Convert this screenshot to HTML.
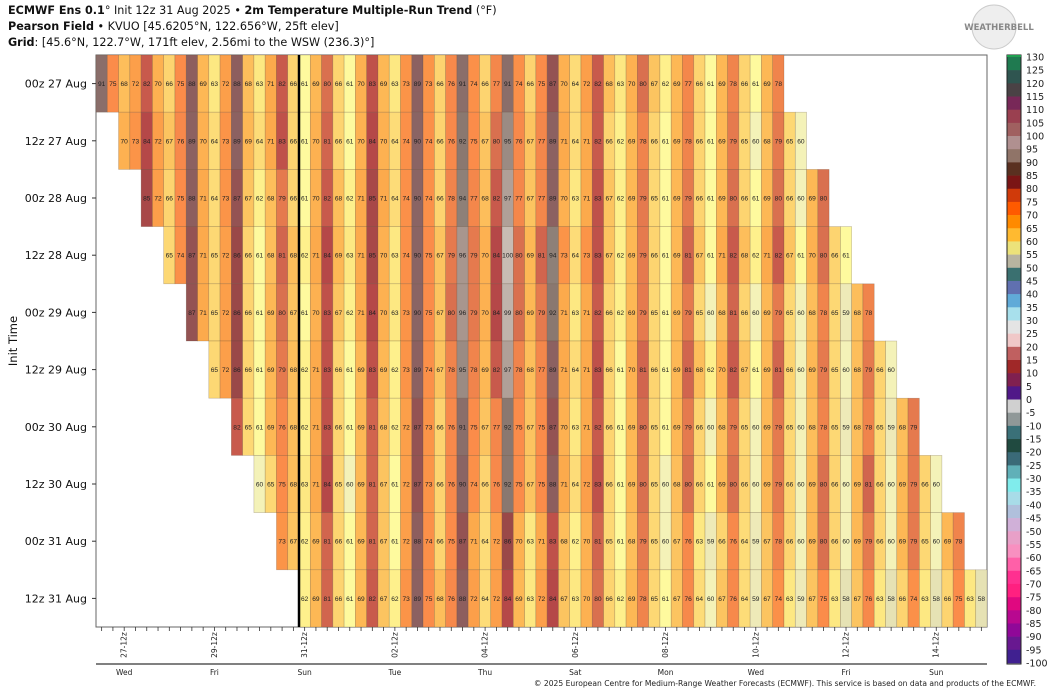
<!DOCTYPE html>
<html><head><meta charset="utf-8">
<style>
body{margin:0;background:#fff;width:1053px;height:694px;overflow:hidden;font-family:"DejaVu Sans","Liberation Sans",sans-serif}
.t{position:absolute;left:8px;font-size:11.2px;color:#111;white-space:nowrap}
</style></head><body>
<div class="t" style="top:4px"><b>ECMWF Ens 0.1</b>° Init 12z 31 Aug 2025 • <b>2m Temperature Multiple-Run Trend</b> (°F)</div>
<div class="t" style="top:20px"><b>Pearson Field</b> • KVUO [45.6205°N, 122.656°W, 25ft elev]</div>
<div class="t" style="top:36px"><b>Grid</b>: [45.6°N, 122.7°W, 171ft elev, 2.56mi to the WSW (236.3)°]</div>
<svg id="chart" width="1053" height="694" style="position:absolute;left:0;top:0"></svg>
<script>
const rowLabels=["00z 27 Aug","12z 27 Aug","00z 28 Aug","12z 28 Aug","00z 29 Aug","12z 29 Aug","00z 30 Aug","12z 30 Aug","00z 31 Aug","12z 31 Aug"];
const row0=[91,75,68,72,82,70,66,75,88,69,63,72,88,68,63,71,82,66,61,69,80,66,61,70,83,69,63,73,89,73,66,76,91,74,66,77,91,74,66,75,87,70,64,72,82,68,63,70,80,67,62,69,77,66,61,69,78,66,61,69,78];
const row1=[70,73,84,72,67,76,89,70,64,73,89,69,64,71,83,66,61,70,81,66,61,70,84,70,64,74,90,74,66,76,92,75,67,80,95,76,67,77,89,71,64,71,82,66,62,69,78,66,61,69,78,66,61,69,79,65,60,68,79,65,60];
const row2=[85,72,66,75,88,71,64,73,87,67,62,68,79,66,61,70,82,68,62,71,85,71,64,74,90,74,66,78,94,77,68,82,97,77,67,77,89,70,63,71,83,67,62,69,79,65,61,69,79,66,61,69,80,66,61,69,80,66,60,69,80];
const row3=[65,74,87,71,65,72,86,66,61,68,81,68,62,71,84,69,63,71,85,70,63,74,90,75,67,79,96,79,70,84,100,80,69,81,94,73,64,73,83,67,62,69,79,66,61,69,81,67,61,71,82,68,62,71,82,67,61,70,80,66,61];
const row4=[87,71,65,72,86,66,61,69,80,67,61,70,83,67,62,71,84,70,63,73,90,75,67,80,96,79,70,84,99,80,69,79,92,71,63,71,82,66,62,69,79,65,61,69,79,65,60,68,81,66,60,69,79,65,60,68,78,65,59,68,78];
const row5=[65,72,86,66,61,69,79,68,62,71,83,66,61,69,83,69,62,73,89,74,67,78,95,78,69,82,97,78,68,77,89,71,64,71,83,66,61,70,81,66,61,69,81,68,62,70,82,67,61,69,81,66,60,69,79,65,60,68,79,66,60];
const row6=[82,65,61,69,76,68,62,71,83,66,61,69,81,68,62,72,87,73,66,76,91,75,67,77,92,75,67,75,87,70,63,71,82,66,61,69,80,65,61,69,79,66,60,68,79,65,60,69,79,65,60,68,78,65,59,68,78,65,59,68,79];
const row7=[60,65,75,68,63,71,84,65,60,69,81,67,61,72,87,73,66,76,90,74,66,76,92,75,67,75,88,71,64,72,83,66,61,69,80,65,60,68,80,66,61,69,80,66,60,69,79,66,60,69,80,66,60,69,81,66,60,69,79,66,60];
const row8=[73,67,62,69,81,66,61,69,81,67,61,72,88,74,66,75,87,71,64,72,86,70,63,71,83,68,62,70,81,65,61,68,79,65,60,67,76,63,59,66,76,64,59,67,78,66,60,69,80,66,60,69,79,66,60,69,79,65,60,69,78];
const row9=[62,69,81,66,61,69,82,67,62,73,89,75,68,76,88,72,64,72,84,69,63,72,84,67,63,70,80,66,62,69,78,65,61,67,76,64,60,67,76,64,59,67,74,63,59,67,75,63,58,67,76,63,58,66,74,63,58,66,75,63,58];
const rows=[row0,row1,row2,row3,row4,row5,row6,row7,row8,row9];
const tickLabels=["27-12z","29-12z","31-12z","02-12z","04-12z","06-12z","08-12z","10-12z","12-12z","14-12z"];
const dayLabels=["Wed","Fri","Sun","Tue","Thu","Sat","Mon","Wed","Fri","Sun"];
const cbarLabels=[130,125,120,115,110,105,100,95,90,85,80,75,70,65,60,55,50,45,40,35,30,25,20,15,10,5,0,-5,-10,-15,-20,-25,-30,-35,-40,-45,-50,-55,-60,-65,-70,-75,-80,-85,-90,-95,-100];
const cbarColors=["#1f7a50","#2f5550","#4a4245","#782858","#9a4050","#a06060","#b09090","#907468","#5a3020","#7a1515","#d03a0a","#ff5a00","#ff8a00","#ffba30","#ece27a","#b8b4a0","#3a7070","#6070b0","#60aad8","#a8e0ec","#e4e4e4","#f0c8c8","#c06060","#a02828","#802050","#501888","#d0d0d0","#909898","#3a7078","#204a40","#3a6a78","#60b0b8","#80ecec","#a8dce8","#b0c0dc","#d0b0d8","#e8a0c8","#f890c0","#ff60a8","#ff3090","#ff2080","#e00880","#b80890","#900898","#681890","#402090"];
const stops=[[58,"#e6e2b4"],[59,"#eeeab8"],[60,"#f4f2b8"],[61,"#fefa9e"],[62,"#fef08c"],[63,"#fde882"],[64,"#fddc78"],[66,"#fdd470"],[67,"#fcc460"],[69,"#fdb855"],[71,"#fcaa4c"],[73,"#fb9448"],[75,"#fb8c4a"],[78,"#f0844c"],[80,"#d9704f"],[82,"#c85a4c"],[84,"#b54848"],[86,"#9a4848"],[88,"#8d5e5e"],[90,"#8a6464"],[92,"#8a7870"],[94,"#8e8078"],[96,"#a8968e"],[100,"#c8bcb4"]];
function hex(c){return [1,3,5].map(i=>parseInt(c.substr(i,2),16));}
function color(v){
  if(v<=stops[0][0])return stops[0][1];
  for(let i=1;i<stops.length;i++){if(v<=stops[i][0]){const a=stops[i-1],b=stops[i];const t=(v-a[0])/(b[0]-a[0]);const A=hex(a[1]),B=hex(b[1]);return "rgb("+A.map((x,k)=>Math.round(x+(B[k]-x)*t)).join(",")+")";}}
  return stops[stops.length-1][1];
}
const X0=96,X1=987,Y0=55,Y1=627,NC=79;
const cw=(X1-X0)/NC,rh=(Y1-Y0)/rows.length;
const xc=c=>X0+c*cw, yr=r=>Y0+r*rh;
const svg=document.getElementById('chart');const NS="http://www.w3.org/2000/svg";
function mk(tag,attrs,parent){const e=document.createElementNS(NS,tag);for(const k in attrs)e.setAttribute(k,attrs[k]);(parent||svg).appendChild(e);return e;}
const frame=mk('rect',{x:X0,y:Y0,width:X1-X0,height:Y1-Y0,fill:'#fff',stroke:'#666','stroke-width':1});


rows.forEach((vals,r)=>{
  const g=mk('g',{});
  
  
  vals.forEach((v,i)=>{
    const c=2*r+i;
    const rc=mk('rect',{x:xc(c),y:yr(r),width:cw,height:rh,fill:color(v),stroke:'rgba(90,70,50,0.35)','stroke-width':0.6},g);
    
    
    const t=mk('text',{x:xc(c)+cw/2,y:yr(r)+rh/2+2.5,'font-size':'6.6px','text-anchor':'middle',fill:'#222','font-family':'"Liberation Sans",sans-serif'},g);
    t.textContent=v;
  });
  const lbl=mk('text',{x:87,y:yr(r)+rh/2+4,'font-size':'11px','text-anchor':'end',fill:'#111'});
  lbl.textContent=rowLabels[r];
  
  
  mk('line',{x1:92,x2:96,y1:yr(r)+rh/2,y2:yr(r)+rh/2,stroke:'#333'});
});
mk('line',{x1:X0+18*cw,x2:X0+18*cw,y1:Y0,y2:Y1,stroke:'#000','stroke-width':2.5});
for(let c=0;c<NC;c++){mk('line',{x1:xc(c)+cw/2,x2:xc(c)+cw/2,y1:Y1,y2:Y1+4,stroke:'#333','stroke-width':0.8});}
tickLabels.forEach((s,i)=>{
  const x=xc(2+8*i)+cw/2;
  const t=mk('text',{x:0,y:0,'font-size':'7.5px','text-anchor':'middle',fill:'#222',transform:`translate(${x+2.5},645) rotate(-90)`});
  t.textContent=s;
  
  
  const d=mk('text',{x:x,y:675,'font-size':'7.5px','text-anchor':'middle',fill:'#222'});
  d.textContent=dayLabels[i];
  
  
});
mk('line',{x1:X0,x2:X1,y1:664,y2:664,stroke:'#000','stroke-width':1});
const yt=mk('text',{x:0,y:0,'font-size':'11.5px','text-anchor':'middle',fill:'#111',transform:'translate(17,341) rotate(-90)'});
yt.textContent='Init Time';


const CB0=57,CB1=663,bh=(CB1-CB0)/(cbarLabels.length-1);
const cg=mk('g',{});


cbarColors.forEach((col,i)=>{mk('rect',{x:1007,y:CB0+i*bh,width:14,height:bh+0.3,fill:col},cg);});
mk('rect',{x:1007,y:CB0-2,width:14,height:CB1-CB0+3,fill:'none',stroke:'#222','stroke-width':1},cg);
mk('rect',{x:1007,y:CB0-2,width:14,height:2,fill:'#20a050'},cg);
cbarLabels.forEach((v,i)=>{const t=mk('text',{x:1026,y:CB0+i*bh+3.5,'font-size':'9.5px',fill:'#222'},cg);t.textContent=v;});
const ft=mk('text',{x:1036,y:686,'font-size':'7.6px','text-anchor':'end',fill:'#222'});
ft.textContent='© 2025 European Centre for Medium-Range Weather Forecasts (ECMWF). This service is based on data and products of the ECMWF.';


const lg=mk('g',{});


mk('circle',{cx:994,cy:27,r:22,fill:'#eee',stroke:'#ccc'},lg);
const lt=mk('text',{x:999,y:30,'font-size':'8.5px','text-anchor':'middle',fill:'#888','font-weight':'bold'},lg);lt.textContent='WEATHERBELL';
</script>
</body></html>
